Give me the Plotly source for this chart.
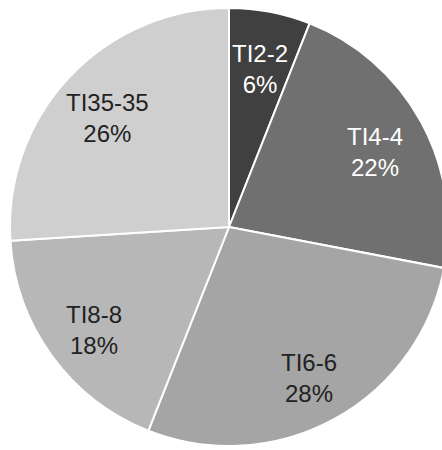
import math
import plotly.graph_objects as go

labels = ["TI2-2", "TI4-4", "TI6-6", "TI8-8", "TI35-35"]
values = [6, 22, 28, 18, 26]
colors = ["#404040", "#707070", "#a5a5a5", "#b7b7b7", "#cfcfcf"]
text_colors = ["#ffffff", "#ffffff", "#222222", "#222222", "#222222"]

W, H = 450, 450
cx, cy, r = 229, 227, 219  # pixel center / radius inside the figure

fig = go.Figure(go.Pie(
    labels=labels,
    values=values,
    sort=False,
    direction="clockwise",
    rotation=0,
    marker=dict(colors=colors, line=dict(color="#ffffff", width=2)),
    textinfo="none",
    hoverinfo="skip",
    domain=dict(x=[(cx - r) / W, min(1, (cx + r) / W)],
                y=[max(0, (H - cy - r) / H), min(1, (H - cy + r) / H)]),
))

# labels placed along each slice's bisector
total = sum(values)
cum = 0
label_frac = 0.76
for lab, v, tc in zip(labels, values, text_colors):
    mid = (cum + v / 2) / total * 2 * math.pi
    cum += v
    px = cx + label_frac * r * math.sin(mid)
    py = cy - label_frac * r * math.cos(mid)
    fig.add_annotation(
        x=px / W, y=1 - py / H, xref="paper", yref="paper",
        text=f"{lab}<br>{round(v / total * 100)}%",
        showarrow=False, xanchor="center", yanchor="middle", yshift=-5,
        font=dict(family="Liberation Sans, Arial, sans-serif", size=24, color=tc),
    )

fig.update_layout(
    width=W, height=H,
    margin=dict(l=0, r=0, t=0, b=0),
    paper_bgcolor="#ffffff",
    plot_bgcolor="#ffffff",
    showlegend=False,
)
fig.write_html(
    "out.html",
    config={"displayModeBar": False, "staticPlot": True},
    post_script=("document.body.style.margin='0';"
                 "document.body.style.overflow='hidden';"
                 "document.documentElement.style.overflow='hidden';"),
)
